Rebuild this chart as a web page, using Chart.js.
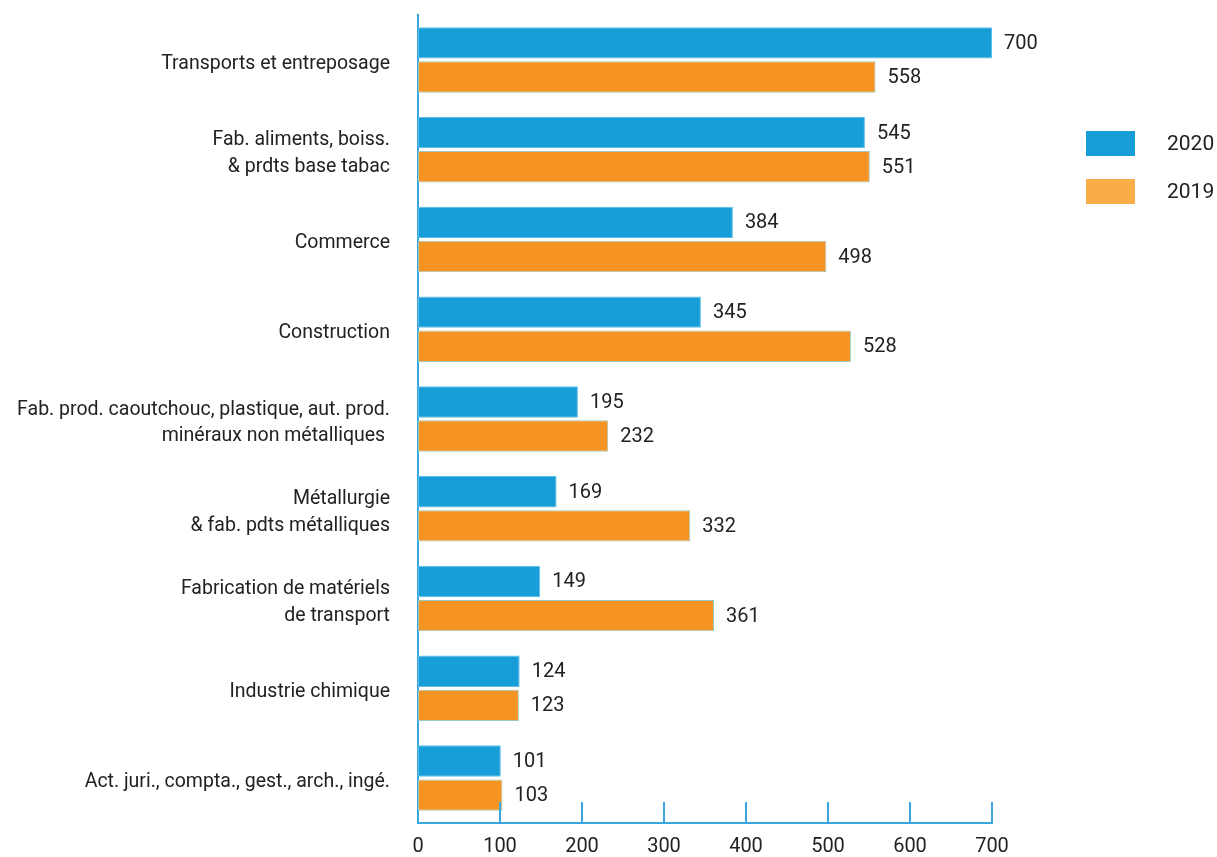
<!DOCTYPE html>
<html>
<head>
<meta charset="utf-8">
<script src="https://cdn.jsdelivr.net/npm/chart.js@4"></script>
<style>
    html, body { margin: 0; padding: 0; background: #ffffff; }
    #wrap { position: relative; width: 1217px; height: 857px; }
    .legend-box { position: absolute; left: 1086px; width: 49px; height: 25px; }
    .legend-text { position: absolute; left: 1167px; font-family: Roboto, sans-serif; font-size: 21px; color: #222222; line-height: 25px; }
</style>
</head>
<body>
<div id="wrap">
    <canvas id="chart" width="1217" height="857"></canvas>
    <div class="legend-box" style="top:131px; background:#179dd8;"></div>
    <div class="legend-text" style="top:131px;">2020</div>
    <div class="legend-box" style="top:179px; background:#f9ac48;"></div>
    <div class="legend-text" style="top:179px;">2019</div>
</div>
<script>
// Categories (top to bottom)
const categories = [
    'Transports et entreposage',
    ['Fab. aliments, boiss.', '& prdts base tabac'],
    'Commerce',
    'Construction',
    ['Fab. prod. caoutchouc, plastique, aut. prod.', 'minéraux non métalliques '],
    ['Métallurgie', '& fab. pdts métalliques'],
    ['Fabrication de matériels', 'de transport'],
    'Industrie chimique',
    'Act. juri., compta., gest., arch., ingé.'
];

const values2020 = [700, 545, 384, 345, 195, 169, 149, 124, 101];
const values2019 = [558, 551, 498, 528, 232, 332, 361, 123, 103];

const xTicks = [0, 100, 200, 300, 400, 500, 600, 700];

const axisBlue = '#3aa8de';
const textColor = '#222222';

// upward tick marks on the x axis + value labels next to bars
const chartExtras = {
    id: 'chartExtras',
    afterDatasetsDraw(chart) {
        const ctx = chart.ctx;
        const xScale = chart.scales.x;
        const area = chart.chartArea;

        ctx.save();
        ctx.strokeStyle = axisBlue;
        ctx.lineWidth = 2;
        xTicks.forEach(v => {
            if (v === 0) return;
            const px = Math.round(xScale.getPixelForValue(v));
            ctx.beginPath();
            ctx.moveTo(px, area.bottom);
            ctx.lineTo(px, area.bottom - 21);
            ctx.stroke();
        });

        ctx.fillStyle = textColor;
        ctx.font = '20px Roboto, sans-serif';
        ctx.textAlign = 'left';
        ctx.textBaseline = 'middle';
        chart.data.datasets.forEach((ds, i) => {
            const meta = chart.getDatasetMeta(i);
            meta.data.forEach((bar, j) => {
                ctx.fillText(String(ds.data[j]), bar.x + 12, bar.y + 1);
            });
        });
        ctx.restore();
    }
};

new Chart(document.getElementById('chart'), {
    type: 'bar',
    data: {
        labels: categories,
        datasets: [
            {
                label: '2020',
                data: values2020,
                backgroundColor: '#179dd8',
                borderColor: '#5cbde9',
                borderWidth: 1,
                borderSkipped: false,
                categoryPercentage: 0.76,
                barPercentage: 0.92
            },
            {
                label: '2019',
                data: values2019,
                backgroundColor: '#f59423',
                borderColor: '#9cc9c0',
                borderWidth: 1,
                borderSkipped: false,
                categoryPercentage: 0.76,
                barPercentage: 0.92
            }
        ]
    },
    options: {
        indexAxis: 'y',
        responsive: false,
        animation: false,
        layout: { padding: { top: 15, right: 225, bottom: 0, left: 0 } },
        scales: {
            x: {
                min: 0,
                max: 700,
                afterBuildTicks: scale => { scale.ticks = xTicks.map(v => ({ value: v })); },
                afterFit: scale => { scale.height = 34; },
                grid: { display: false, drawTicks: false },
                border: { display: true, color: axisBlue, width: 2 },
                ticks: {
                    color: textColor,
                    padding: 12,
                    font: { family: 'Roboto, sans-serif', size: 20 }
                }
            },
            y: {
                afterFit: scale => {
                    scale.width = 418;
                    scale.paddingTop = 0;
                    scale.paddingBottom = 0;
                },
                grid: { display: false, drawTicks: false },
                border: { display: true, color: axisBlue, width: 2 },
                ticks: {
                    color: textColor,
                    padding: 28,
                    labelOffset: 4,
                    font: { family: 'Roboto, sans-serif', size: 19.5, lineHeight: 1.35 }
                }
            }
        },
        plugins: {
            legend: { display: false },
            tooltip: { enabled: false }
        }
    },
    plugins: [chartExtras]
});
</script>
</body>
</html>
